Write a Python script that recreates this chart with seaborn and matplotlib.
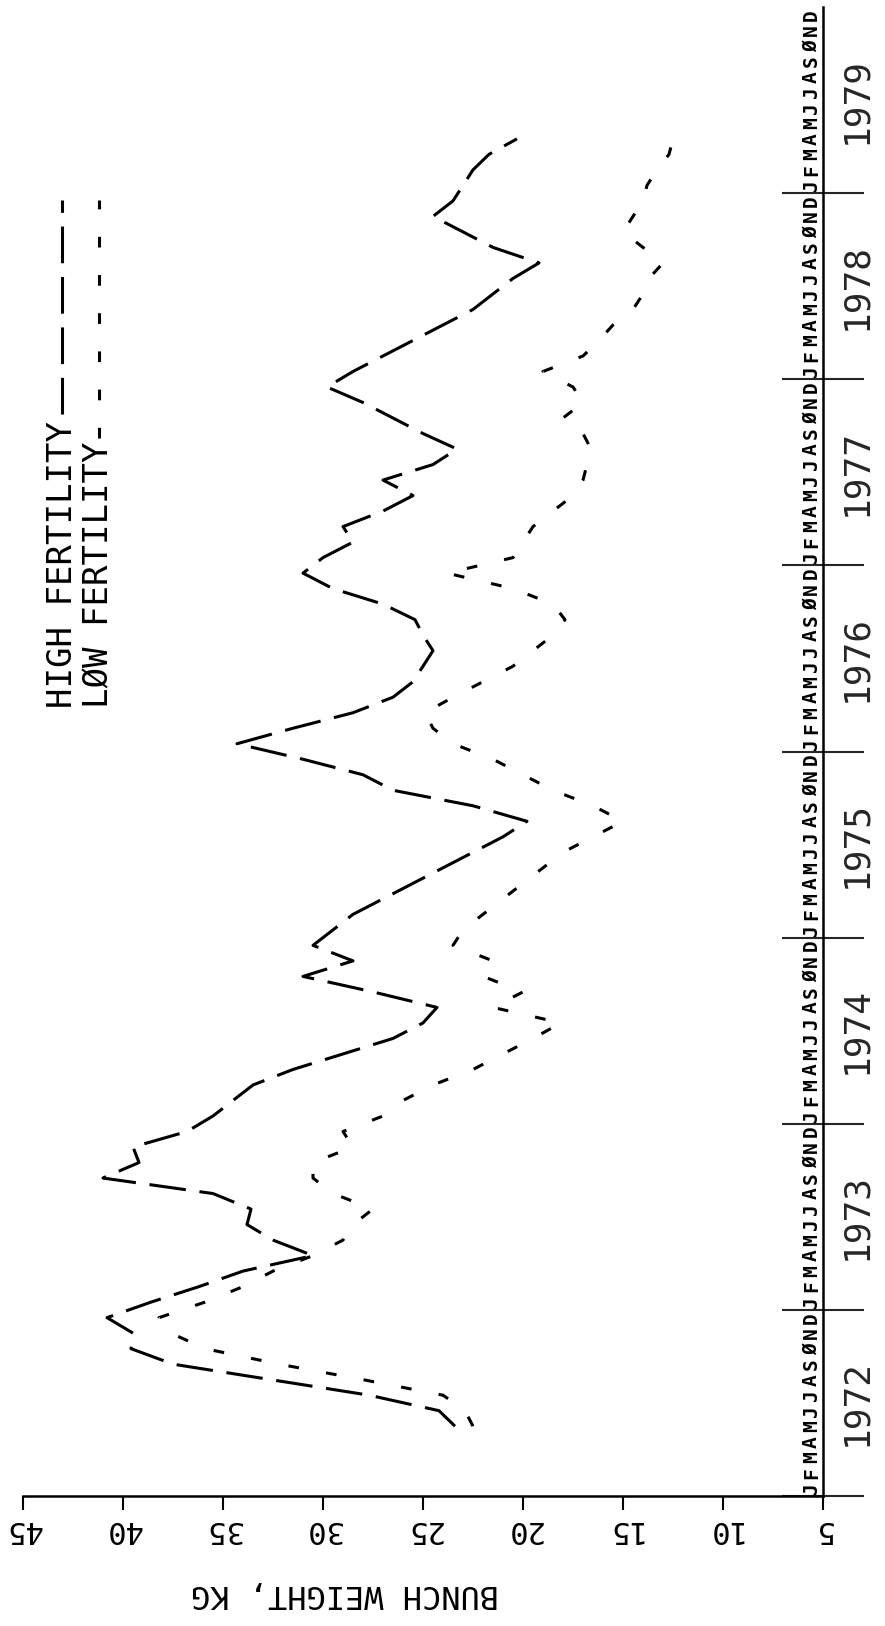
import numpy as np
import pandas as pd
import matplotlib
matplotlib.use("Agg")
import matplotlib.pyplot as plt
import matplotlib.transforms as mtransforms
from matplotlib.lines import Line2D
import seaborn as sns

# Monthly mean bunch weight (kg), May 1972 onwards
high_fertility = [
    23.4, 24.2, 27.7, 32.6, 37.5, 39.6, 39.5, 40.8,
    38.6, 36.2, 34.0, 30.5, 32.5, 33.8, 33.6, 35.5, 41.0, 39.2, 39.5, 36.8,
    35.5, 34.5, 33.5, 31.5, 29.0, 26.5, 25.0, 24.3, 27.5, 31.0, 28.5, 30.5,
    29.5, 28.5, 27.0, 25.5, 24.0, 22.5, 21.0, 19.8, 22.5, 26.5, 28.0, 31.0,
    34.3, 31.5, 28.5, 26.5, 25.5, 25.0, 24.5, 25.0, 25.4, 27.0, 29.5, 31.0,
    30.0, 28.5, 29.0, 27.0, 25.5, 27.0, 24.5, 23.3, 25.0, 26.5, 28.0, 29.8,
    28.5, 27.0, 25.5, 24.0, 22.5, 21.5, 20.5, 19.2, 21.5, 23.0, 24.5, 23.5,
    23.0, 22.5, 21.7, 20.3,
]
low_fertility = [
    22.5, 22.9, 24.0, 28.0, 32.2, 35.9, 37.6, 38.2,
    35.9, 34.0, 32.5, 30.5, 29.0, 28.5, 27.5, 29.5, 30.5, 30.5, 28.5, 29.0,
    27.0, 26.0, 24.5, 22.5, 21.0, 19.5, 18.1, 21.5, 20.0, 22.0, 21.5, 23.5,
    23.0, 22.0, 21.0, 20.0, 19.0, 18.0, 16.5, 15.0, 16.5, 18.5, 20.0, 21.5,
    23.5, 24.5, 24.9, 23.5, 22.0, 20.5, 19.5, 18.5, 17.9, 18.5, 20.5, 23.8,
    20.5, 20.0, 19.5, 18.5, 17.5, 17.0, 16.8, 16.6, 17.0, 18.0, 17.0, 17.5,
    19.0, 17.0, 16.2, 15.5, 14.5, 14.0, 13.7, 13.0, 14.0, 15.0, 14.5, 14.0,
    13.8, 13.3, 12.7, 12.5,
]
first_month = 1972 + 4 / 12          # May 1972
years = list(range(1972, 1980))
month_letters = list("JFMAMJJASØND")
weight_ticks = [5, 10, 15, 20, 25, 30, 35, 40, 45]

series_names = ["HIGH FERTILITY", "LØW FERTILITY"]

def to_frame(values, name):
    t = first_month + (np.arange(len(values)) + 0.5) / 12
    return pd.DataFrame({"time": t, "weight": values, "series": name})

high_df = to_frame(high_fertility, series_names[0])
low_df = to_frame(low_fertility, series_names[1])

sns.set_theme(style="white")
plt.rcParams["font.family"] = ["DejaVu Sans Mono"]
plt.rcParams["axes.linewidth"] = 1.8

W, H = 885, 1626
fig = plt.figure(figsize=(W / 100, H / 100), dpi=100)
x0, x1 = 23, 823
y_top, y_bot = 7, 1496
ax = fig.add_axes([x0 / W, (H - y_bot) / H, (x1 - x0) / W, (y_bot - y_top) / H])

lw = 2.2
high_dash = (0, (12, 4.5))
low_dash = (0, (3.5, 9))

sns.lineplot(data=high_df, x="weight", y="time", orient="y", sort=False,
             color="black", lw=lw, linestyle=high_dash, ax=ax, estimator=None)
sns.lineplot(data=low_df, x="weight", y="time", orient="y", sort=False,
             color="black", lw=lw, linestyle=low_dash, ax=ax, estimator=None)

ax.set_xlim(45, 5)
ax.set_ylim(1972, 1980)
ax.set_xlabel("")
ax.set_ylabel("")

for side in ["left", "top"]:
    ax.spines[side].set_visible(False)
for side in ["bottom", "right"]:
    ax.spines[side].set_color("black")
    ax.spines[side].set_linewidth(1.8)

# weight axis along the bottom, labels upside down
ax.set_xticks(weight_ticks)
ax.set_xticklabels([str(v) for v in weight_ticks], rotation=180, fontsize=22)
ax.tick_params(axis="x", direction="out", length=10, width=1.5, pad=4,
               colors="black", bottom=True)

# time axis on the right: long year boundary ticks, year names between them
ax.yaxis.tick_right()
ax.set_yticks(years)
ax.set_yticklabels([""] * len(years))
ax.tick_params(axis="y", which="major", direction="inout", length=59, width=1.5,
               right=True, left=False)
ax.set_yticks([y + 0.5 for y in years], minor=True)
ax.set_yticklabels([str(y) for y in years], minor=True, rotation=90,
                   fontsize=26, va="center")
ax.tick_params(axis="y", which="minor", length=0, pad=12, right=True, left=False)

# month initials just inside the time axis
trans = mtransforms.blended_transform_factory(ax.transAxes, ax.transData)
for yr in years:
    for m, letter in enumerate(month_letters):
        ax.text(0.9975, yr + (m + 0.5) / 12, letter, transform=trans,
                rotation=90, ha="right", va="center", fontsize=14,
                fontweight="bold", color="black")

# upside-down weight title
fig.text(345 / W, 1 - 1593 / H, "BUNCH WEIGHT, KG", rotation=180,
         ha="center", va="center", fontsize=23, color="black")

# key, written bottom-to-top
key = [(62, 708, 414, series_names[0], high_dash),
       (99, 708, 438, series_names[1], low_dash)]
for xc, ystart, yline, label, dash in key:
    fig.text(xc / W, 1 - ystart / H, label, rotation=90, rotation_mode="anchor",
             ha="left", va="center", fontsize=24.5, color="black")
    fig.add_artist(Line2D([xc / W, xc / W], [1 - yline / H, 1 - 200 / H],
                          transform=fig.transFigure, color="black", lw=lw,
                          linestyle=dash))

fig.savefig("out.png", dpi=100, facecolor="white")
